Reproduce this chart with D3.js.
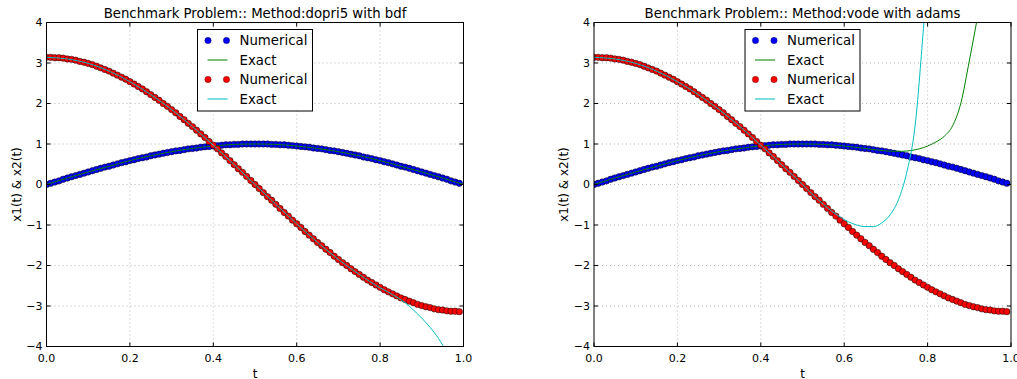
<!DOCTYPE html>
<html>
<head>
<meta charset="utf-8">
<script src="https://cdn.jsdelivr.net/npm/d3@7"></script>
<style>
  body { margin: 0; background: #fff; }
  text { font-family: "DejaVu Sans", sans-serif; fill: #000; }
</style>
</head>
<body>
<svg id="chart" width="1017" height="379"></svg>
<script>
// sample times of the numerical solution
const tNum = [0,.01,.02,.03,.04,.05,.06,.07,.08,.09,.1,.11,.12,.13,.14,.15,.16,.17,.18,.19,.2,.21,.22,.23,.24,.25,.26,.27,.28,.29,.3,.31,.32,.33,.34,.35,.36,.37,.38,.39,.4,.41,.42,.43,.44,.45,.46,.47,.48,.49,.5,.51,.52,.53,.54,.55,.56,.57,.58,.59,.6,.61,.62,.63,.64,.65,.66,.67,.68,.69,.7,.71,.72,.73,.74,.75,.76,.77,.78,.79,.8,.81,.82,.83,.84,.85,.86,.87,.88,.89,.9,.91,.92,.93,.94,.95,.96,.97,.98,.99];

// numerical x1 (blue) - same in both panels
const x1Num = [0,.03,.06,.09,.13,.16,.19,.22,.25,.28,.31,.34,.37,.40,.43,.45,.48,.51,.54,.56,.59,.61,.64,.66,.68,.71,.73,.75,.77,.79,.81,.83,.84,.86,.88,.89,.90,.92,.93,.94,.95,.96,.97,.98,.98,.99,.99,1,1,1,1,1,1,1,.99,.99,.98,.98,.97,.96,.95,.94,.93,.92,.90,.89,.88,.86,.84,.83,.81,.79,.77,.75,.73,.71,.68,.66,.64,.61,.59,.56,.54,.51,.48,.45,.43,.40,.37,.34,.31,.28,.25,.22,.19,.16,.13,.09,.06,.03];

// numerical x2 (red)
const x2Num = [3.14,3.14,3.13,3.13,3.12,3.10,3.09,3.07,3.04,3.02,2.99,2.96,2.92,2.88,2.84,2.80,2.75,2.70,2.65,2.60,2.54,2.48,2.42,2.36,2.29,2.22,2.15,2.08,2.00,1.93,1.85,1.77,1.68,1.60,1.51,1.43,1.34,1.25,1.16,1.06,.97,.88,.78,.69,.59,.49,.39,.30,.20,.10,0,-.10,-.20,-.30,-.39,-.49,-.59,-.69,-.78,-.88,-.97,-1.06,-1.16,-1.25,-1.34,-1.43,-1.51,-1.60,-1.68,-1.77,-1.85,-1.93,-2.00,-2.08,-2.15,-2.22,-2.29,-2.36,-2.42,-2.48,-2.54,-2.60,-2.65,-2.70,-2.75,-2.80,-2.84,-2.88,-2.92,-2.96,-2.99,-3.02,-3.04,-3.07,-3.09,-3.10,-3.12,-3.13,-3.13,-3.14];

// "exact" curves, left panel (dopri5 with bdf)
const tExactL1 = [0,.05,.1,.15,.2,.25,.3,.35,.4,.45,.5,.55,.6,.65,.7,.75,.8,.85,.9,.95,1];
const x1ExactL = [0,.16,.31,.45,.59,.71,.81,.89,.95,.99,1,.99,.95,.89,.81,.71,.59,.45,.31,.16,0];
const tExactL2 = [0,.05,.1,.15,.2,.25,.3,.35,.4,.45,.5,.55,.6,.65,.7,.75,.8,.82,.84,.86,.88,.9,.92,.94,.96,.98];
const x2ExactL = [3.14,3.10,2.99,2.80,2.54,2.22,1.85,1.43,.97,.49,0,-.49,-.97,-1.43,-1.85,-2.22,-2.55,-2.66,-2.78,-2.92,-3.10,-3.30,-3.53,-3.80,-4.15,-4.6];

// "exact" curves, right panel (vode with adams)
const tExactR1 = [0,.05,.1,.15,.2,.25,.3,.35,.4,.45,.5,.55,.6,.65,.7,.72,.74,.76,.78,.8,.82,.84,.86,.88,.9,.92,.94];
const x1ExactR = [0,.16,.31,.45,.59,.71,.81,.89,.95,.99,1,.99,.95,.89,.83,.82,.82,.84,.88,.95,1.05,1.19,1.45,2.02,3.05,4.15,5.3];
const tExactR2 = [0,.05,.1,.15,.2,.25,.3,.35,.4,.45,.5,.55,.57,.59,.61,.63,.65,.67,.69,.71,.73,.75,.77,.79,.8];
const x2ExactR = [3.14,3.10,2.99,2.80,2.54,2.22,1.85,1.43,.97,.49,0,-.49,-.66,-.80,-.92,-1.00,-1.04,-1.04,-.95,-.75,-.38,.30,1.45,3.85,5.2];

const panels = [
  { title: "Benchmark Problem:: Method:dopri5 with bdf", left: 46.5, e1: [tExactL1, x1ExactL], e2: [tExactL2, x2ExactL] },
  { title: "Benchmark Problem:: Method:vode with adams", left: 594, e1: [tExactR1, x1ExactR], e2: [tExactR2, x2ExactR] }
];

const xTicks = [0, 0.2, 0.4, 0.6, 0.8, 1.0];
const yTicks = [-4, -3, -2, -1, 0, 1, 2, 3, 4];
const legendItems = [
  { label: "Numerical", kind: "dot", color: "#0000ff" },
  { label: "Exact", kind: "line", color: "#008000" },
  { label: "Numerical", kind: "dot", color: "#ff0000" },
  { label: "Exact", kind: "line", color: "#00bfbf" }
];

const svg = d3.select("#chart");
const W = 417, topY = 22.5, H = 324;
const fmtY = d => (d < 0 ? "\u2212" + Math.abs(d) : "" + d);

panels.forEach((p, pi) => {
  const g = svg.append("g").attr("transform", `translate(${p.left},${topY})`);
  const x = d3.scaleLinear().domain([0, 1]).range([0, W]);
  const y = d3.scaleLinear().domain([-4, 4]).range([H, 0]);

  g.append("clipPath").attr("id", "clip" + pi)
    .append("rect").attr("width", W).attr("height", H);

  // grid
  g.append("g").selectAll("line").data(xTicks.slice(1, -1)).enter().append("line")
    .attr("x1", d => x(d)).attr("x2", d => x(d)).attr("y1", 0).attr("y2", H)
    .attr("stroke", "#888").attr("stroke-width", 0.6).attr("stroke-dasharray", "1,3");
  g.append("g").selectAll("line").data(yTicks.slice(1, -1)).enter().append("line")
    .attr("y1", d => y(d)).attr("y2", d => y(d)).attr("x1", 0).attr("x2", W)
    .attr("stroke", "#888").attr("stroke-width", 0.6).attr("stroke-dasharray", "1,3");

  const plot = g.append("g").attr("clip-path", `url(#clip${pi})`);
  const line = d3.line().x(d => x(d[0])).y(d => y(d[1])).curve(d3.curveMonotoneX);

  function dots(vals, color) {
    plot.append("g").selectAll("circle").data(tNum.map((t, i) => [t, vals[i]])).enter()
      .append("circle")
      .attr("cx", d => x(d[0])).attr("cy", d => y(d[1])).attr("r", 3.2)
      .attr("fill", color).attr("stroke", "#000").attr("stroke-width", 0.5);
  }
  function curve(arr, color) {
    plot.append("path").datum(arr[0].map((t, i) => [t, arr[1][i]]))
      .attr("d", line).attr("fill", "none").attr("stroke", color).attr("stroke-width", 1);
  }
  dots(x1Num, "#0000ff");
  curve(p.e1, "#008000");
  dots(x2Num, "#ff0000");
  curve(p.e2, "#00bfbf");

  // frame
  g.append("rect").attr("width", W).attr("height", H)
    .attr("fill", "none").attr("stroke", "#000").attr("stroke-width", 1);

  // ticks (inside, on all four sides)
  xTicks.forEach(d => {
    g.append("line").attr("x1", x(d)).attr("x2", x(d)).attr("y1", H).attr("y2", H - 4).attr("stroke", "#000");
    g.append("line").attr("x1", x(d)).attr("x2", x(d)).attr("y1", 0).attr("y2", 4).attr("stroke", "#000");
    g.append("text").attr("x", x(d)).attr("y", H + 15).attr("text-anchor", "middle")
      .attr("font-size", "11px").text(d.toFixed(1));
  });
  yTicks.forEach(d => {
    g.append("line").attr("y1", y(d)).attr("y2", y(d)).attr("x1", 0).attr("x2", 4).attr("stroke", "#000");
    g.append("line").attr("y1", y(d)).attr("y2", y(d)).attr("x1", W).attr("x2", W - 4).attr("stroke", "#000");
    g.append("text").attr("x", -4).attr("y", y(d)).attr("dy", "0.35em").attr("text-anchor", "end")
      .attr("font-size", "11px").text(fmtY(d));
  });

  g.append("text").attr("x", W / 2).attr("y", -5).attr("text-anchor", "middle")
    .attr("font-size", "13.3px").text(p.title);
  g.append("text").attr("x", W / 2).attr("y", H + 31).attr("text-anchor", "middle")
    .attr("font-size", "12px").text("t");
  g.append("text").attr("transform", `translate(-26,${H / 2}) rotate(-90)`).attr("text-anchor", "middle")
    .attr("font-size", "12px").text("x1(t) & x2(t)");

  // legend
  const lg = g.append("g").attr("transform", "translate(151,7)");
  lg.append("rect").attr("width", 115).attr("height", 81.5)
    .attr("fill", "#fff").attr("stroke", "#000").attr("stroke-width", 1);
  legendItems.forEach((it, i) => {
    const cy = 11 + i * 19.5;
    if (it.kind === "dot") {
      [10.5, 29].forEach(cx => lg.append("circle").attr("cx", cx).attr("cy", cy).attr("r", 3.2)
        .attr("fill", it.color).attr("stroke", "#000").attr("stroke-width", 0.3));
    } else {
      lg.append("line").attr("x1", 10).attr("x2", 30).attr("y1", cy).attr("y2", cy)
        .attr("stroke", it.color).attr("stroke-width", 2).attr("opacity", 0.5);
    }
    lg.append("text").attr("x", 42).attr("y", cy).attr("dy", "0.36em")
      .attr("font-size", "13.3px").text(it.label);
  });
});
</script>
</body>
</html>
